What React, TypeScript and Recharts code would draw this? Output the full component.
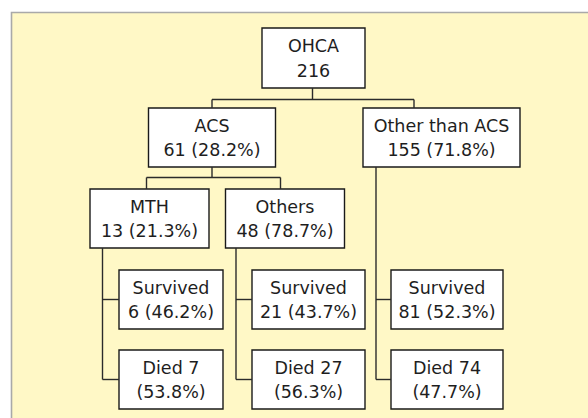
import React from "react";
import {
  ComposedChart,
  ReferenceArea,
  ReferenceLine,
  Scatter,
  XAxis,
  YAxis,
} from "recharts";

// tree data
const nodeTitles = [
  "OHCA",
  "ACS",
  "Other than ACS",
  "MTH",
  "Others",
  "Survived",
  "Died",
  "Survived",
  "Died",
  "Survived",
  "Died",
];
const nodeCounts = [216, 61, 155, 13, 48, 6, 7, 21, 27, 81, 74];
const nodePercents = [
  null, 28.2, 71.8, 21.3, 78.7, 46.2, 53.8, 43.7, 56.3, 52.3, 47.7,
];
const nodeParents = [null, 0, 0, 1, 1, 3, 3, 4, 4, 2, 2];

// layout in chart units (axes run 0..588 / 0..418)
const boxes = [
  { x1: 262, x2: 365, y1: 28, y2: 88 },
  { x1: 148.5, x2: 275.5, y1: 108, y2: 167 },
  { x1: 363, x2: 520, y1: 108, y2: 167 },
  { x1: 90, x2: 209, y1: 189, y2: 248 },
  { x1: 225.5, x2: 344.5, y1: 189, y2: 248 },
  { x1: 119, x2: 223, y1: 270, y2: 329 },
  { x1: 119, x2: 223, y1: 350, y2: 409 },
  { x1: 252, x2: 365, y1: 270, y2: 329 },
  { x1: 252, x2: 365, y1: 350, y2: 409 },
  { x1: 391, x2: 503, y1: 270, y2: 329 },
  { x1: 391, x2: 503, y1: 350, y2: 409 },
];
const dropX: Record<number, number> = { 0: 312.5, 1: 212, 2: 414, 3: 146.5, 4: 280.5 };
const busY: Record<number, number> = { 0: 99.5, 1: 177.5 };
const trunkX: Record<number, number> = { 2: 376, 3: 102.5, 4: 236 };

const LINE = "#2b2b2b";
const FONT = "'DejaVu Sans', sans-serif";

function nodeLines(i: number): string[] {
  const t = nodeTitles[i];
  const n = nodeCounts[i];
  const p = nodePercents[i];
  if (p === null) return [t, `${n}`];
  if (t === "Died") return [`${t} ${n}`, `(${p}%)`];
  return [t, `${n} (${p}%)`];
}

type Seg = [{ x: number; y: number }, { x: number; y: number }];

function buildSegments(): Seg[] {
  const segs: Seg[] = [];
  const parentIds = Array.from(new Set(nodeParents.filter((p) => p !== null))) as number[];
  parentIds.forEach((p) => {
    const kids = nodeParents
      .map((q, i) => (q === p ? i : -1))
      .filter((i) => i >= 0);
    const pb = boxes[p];
    if (trunkX[p] !== undefined) {
      const tx = trunkX[p];
      const ys = kids.map((k) => (boxes[k].y1 + boxes[k].y2) / 2);
      segs.push([{ x: tx, y: pb.y2 }, { x: tx, y: Math.max(...ys) }]);
      kids.forEach((k, j) => {
        segs.push([{ x: tx, y: ys[j] }, { x: boxes[k].x1, y: ys[j] }]);
      });
    } else {
      const by = busY[p];
      const xs = kids.map((k) => dropX[k]);
      segs.push([{ x: dropX[p], y: pb.y2 }, { x: dropX[p], y: by }]);
      segs.push([{ x: Math.min(...xs), y: by }, { x: Math.max(...xs), y: by }]);
      kids.forEach((k) => {
        segs.push([{ x: dropX[k], y: by }, { x: dropX[k], y: boxes[k].y1 }]);
      });
    }
  });
  return segs;
}

function NodeLabel(props: any) {
  const { viewBox, lines } = props;
  if (!viewBox) return null;
  const cx = viewBox.x + viewBox.width / 2;
  const cy = viewBox.y + viewBox.height / 2;
  return (
    <text
      x={cx}
      textAnchor="middle"
      fontFamily={FONT}
      fontSize={17.5}
      fill="#1e1e1e"
    >
      <tspan x={cx} y={cy - 12} dominantBaseline="central">
        {lines[0]}
      </tspan>
      <tspan x={cx} y={cy + 12.5} dominantBaseline="central">
        {lines[1]}
      </tspan>
    </text>
  );
}

function Panel(props: any) {
  const { x, y, width, height } = props;
  return (
    <g>
      <rect x={x} y={y} width={width} height={height} fill="#FFF8C6" />
      <path
        d={`M${x},${y + height} L${x},${y} L${x + width},${y}`}
        fill="none"
        stroke="#a9a9a9"
        strokeWidth={1.6}
      />
    </g>
  );
}

export default function App() {
  const segs = buildSegments();
  const centers = boxes.map((b, i) => ({
    x: (b.x1 + b.x2) / 2,
    y: (b.y1 + b.y2) / 2,
    id: i,
  }));
  return (
    <div
      style={{
        position: "absolute",
        left: 0,
        top: 0,
        width: 588,
        height: 418,
        background: "#fff",
      }}
    >
      <ComposedChart
        width={588}
        height={418}
        data={centers}
        margin={{ top: 0, right: 0, bottom: 0, left: 0 }}
      >
        <XAxis type="number" dataKey="x" domain={[0, 588]} hide allowDataOverflow />
        <YAxis type="number" dataKey="y" domain={[0, 418]} reversed hide allowDataOverflow />
        <ReferenceArea
          x1={11.5}
          x2={588}
          y1={12.5}
          y2={418}
          shape={<Panel />}
        />
        {segs.map((s, i) => (
          <ReferenceLine
            key={`seg-${i}`}
            segment={s}
            stroke={LINE}
            strokeWidth={1.4}
          />
        ))}
        {boxes.map((b, i) => (
          <ReferenceArea
            key={`node-${i}`}
            x1={b.x1}
            x2={b.x2}
            y1={b.y1}
            y2={b.y2}
            fill="#ffffff"
            fillOpacity={1}
            stroke="#1a1a1a"
            strokeWidth={1.4}
            label={<NodeLabel lines={nodeLines(i)} />}
          />
        ))}
        <Scatter
          data={centers}
          dataKey="y"
          fill="none"
          shape={() => <g />}
          isAnimationActive={false}
        />
      </ComposedChart>
    </div>
  );
}
